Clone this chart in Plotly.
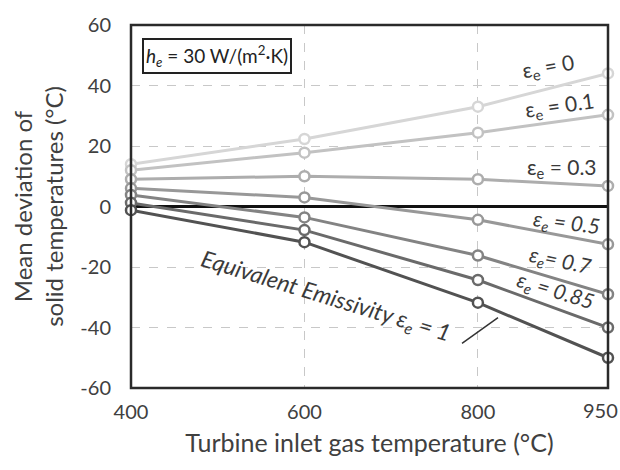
import plotly.graph_objects as go

x_temps = [400, 600, 800, 950]
x_ticklabels = ["400", "600", "800", "950"]
y_ticks = [-60, -40, -20, 0, 20, 40, 60]
y_ticklabels = ["-60", "-40", "-20", "0", "20", "40", "60"]
emissivities = ["0", "0.1", "0.3", "0.5", "0.7", "0.85", "1"]
dev_e0 = [14, 22.3, 33, 44]
dev_e01 = [12, 17.8, 24.4, 30.3]
dev_e03 = [9, 10, 9, 6.8]
dev_e05 = [6, 3, -4.4, -12.5]
dev_e07 = [3.8, -3.6, -16.2, -29]
dev_e085 = [1.2, -7.8, -24.3, -40]
dev_e1 = [-1.2, -11.8, -31.8, -50]
series = [dev_e0, dev_e01, dev_e03, dev_e05, dev_e07, dev_e085, dev_e1]
colors = ["#d6d6d6", "#c2c2c2", "#adadad", "#989898", "#838383", "#6a6a6a", "#525252"]

FONT = "Lato"
TXT = "#404040"
L, R, T, B = 131, 608, 22, 388
fig = go.Figure()
for name, ys, c in zip(emissivities, series, colors):
    fig.add_trace(go.Scatter(
        x=x_temps, y=ys, mode="lines+markers", name="εe = " + name,
        line=dict(color=c, width=3),
        marker=dict(symbol="circle", size=10, color="white", line=dict(color=c, width=2.5)),
        cliponaxis=False, showlegend=False))

fig.update_layout(
    width=620, height=470,
    margin=dict(l=L, r=620 - R, t=T, b=470 - B),
    plot_bgcolor="white", paper_bgcolor="white",
    font=dict(family=FONT, color=TXT),
)
fig.update_xaxes(
    range=[400, 950], tickvals=x_temps[:-1], ticktext=x_ticklabels[:-1],
    showgrid=True, gridcolor="#c8c8c8", griddash="dash", gridwidth=1,
    zeroline=False, showline=False, ticks="", ticklabelstandoff=10,
    tickfont=dict(size=20, color=TXT),
    title=dict(text="Turbine inlet gas temperature (°C)", font=dict(size=25, color=TXT), standoff=12),
)
fig.update_yaxes(
    range=[-60, 60], tickvals=y_ticks, ticktext=y_ticklabels,
    showgrid=True, gridcolor="#c8c8c8", griddash="dash", gridwidth=1,
    zeroline=True, zerolinecolor="#111111", zerolinewidth=3,
    showline=False, ticks="", ticklabelstandoff=19,
    tickfont=dict(size=20, color=TXT),
    title=dict(text="Mean deviation of<br>solid temperatures (°C)", font=dict(size=24, color=TXT), standoff=9),
)
# last x tick label, nudged inside the page like the reference
fig.add_annotation(xref="paper", yref="paper", x=(600 - L) / (R - L), y=(B - 410) / (B - T),
                   text=x_ticklabels[-1], showarrow=False, font=dict(size=20, color=TXT),
                   xanchor="center", yanchor="middle")
# plot frame
fig.add_shape(type="rect", xref="paper", yref="paper", x0=0, y0=0, x1=1, y1=1,
              line=dict(color="#2a2a2a", width=2.5), layer="above")

# h_e box
fig.add_annotation(xref="paper", yref="paper", x=(142 - L) / (R - L), y=(B - 35) / (B - T),
                   xanchor="left", yanchor="top",
                   text="<i>h<sub>e</sub></i> = 30 W/(m<sup>2</sup>·K)", showarrow=False,
                   font=dict(size=19, color="#222222"), bordercolor="#222222", borderwidth=2,
                   borderpad=2, bgcolor="white")

labels = [
    (548, 64, -10, "ε<sub>e</sub> = 0", False, 21),
    (560, 104, -8, "ε<sub>e</sub> = 0.1", False, 21),
    (562, 166, 0, "ε<sub>e</sub> = 0.3", False, 21),
    (566, 222, 7, "ε<sub>e</sub> = 0.5", True, 21),
    (560, 260, 12, "ε<sub>e</sub>= 0.7", True, 21),
    (555, 290, 17, "ε<sub>e</sub> = 0.85", True, 21),
    (326, 296, 17, "Equivalent Emissivity ε<sub>e</sub> = 1", True, 23),
]
for px, py, ang, txt, it, fs in labels:
    fig.add_annotation(xref="paper", yref="paper",
                       x=(px - L) / (R - L), y=(B - py) / (B - T),
                       text=("<i>" + txt + "</i>") if it else txt, showarrow=False,
                       textangle=ang, font=dict(size=fs, color="#3a3a3a"),
                       xanchor="center", yanchor="middle")
# leader line
fig.add_shape(type="line", xref="paper", yref="paper",
              x0=(462 - L) / (R - L), y0=(B - 343) / (B - T),
              x1=(498 - L) / (R - L), y1=(B - 317) / (B - T),
              line=dict(color="#333333", width=1.5))

fig.write_html("out.html")
